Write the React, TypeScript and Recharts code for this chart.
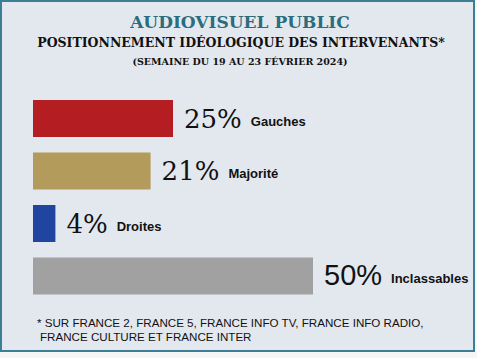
import React from 'react';
import { BarChart, Bar, XAxis, YAxis, Cell, LabelList } from 'recharts';

// Positionnement idéologique des intervenants, semaine du 19 au 23 février 2024
const CATEGORIES = ['Gauches', 'Majorité', 'Droites', 'Inclassables'];
const SHARES = [25, 21, 4, 50];
const BAR_COLORS = ['#b41e22', '#b39b5b', '#1f45a0', '#a1a1a1'];

const TITLE = 'AUDIOVISUEL PUBLIC';
const SUBTITLE = 'POSITIONNEMENT IDÉOLOGIQUE DES INTERVENANTS*';
const PERIOD = '(SEMAINE DU 19 AU 23 FÉVRIER 2024)';
const FOOTNOTE = [
  '* SUR FRANCE 2, FRANCE 5, FRANCE INFO TV, FRANCE INFO RADIO,',
  'FRANCE CULTURE ET FRANCE INTER',
];

const data = CATEGORIES.map((name, i) => ({ name, value: SHARES[i] }));

const W = 477;
const H = 358;

// value + category name drawn right after each bar
const BarLabel = (props: any) => {
  const { x, y, width, height, value, index } = props;
  const sans = index === 3; // the "50%" is set in a sans face in the original
  return (
    <text x={x + width + 11} y={y + height / 2 + 9} fill="#111">
      <tspan
        fontFamily={sans ? 'Liberation Sans, sans-serif' : 'DejaVu Serif, serif'}
        fontSize={sans ? 29 : 26}
      >
        {value}%
      </tspan>
      <tspan dx={9} dy={-2} fontFamily="Liberation Sans, sans-serif" fontWeight="bold" fontSize={13}>
        {CATEGORIES[index]}
      </tspan>
    </text>
  );
};

export default function App() {
  return (
    <div style={{ position: 'absolute', left: 0, top: 0, width: W, height: H, background: '#f4f6f8' }}>
      <div
        style={{
          position: 'absolute',
          left: 0,
          top: 0,
          width: 475,
          height: 352,
          boxSizing: 'border-box',
          border: '2px solid #3d7d96',
          background: '#e3e8ef',
        }}
      />
      <div style={{ position: 'absolute', left: 0, top: 0 }}>
        <BarChart
          width={W}
          height={H}
          data={data}
          layout="vertical"
          margin={{ top: 92, right: 164, bottom: 56, left: 33 }}
        >
          <XAxis type="number" domain={[0, 50]} hide />
          <YAxis type="category" dataKey="name" hide />
          <Bar dataKey="value" barSize={37} isAnimationActive={false}>
            {data.map((d, i) => (
              <Cell key={d.name} fill={BAR_COLORS[i]} />
            ))}
            <LabelList dataKey="value" content={BarLabel} />
          </Bar>
        </BarChart>
      </div>
      <svg width={W} height={H} style={{ position: 'absolute', left: 0, top: 0, pointerEvents: 'none' }}>
        <text x={240} y={28} textAnchor="middle" fontFamily="DejaVu Serif, serif" fontWeight="bold" fontSize={17} fill="#2c6c7c">
          {TITLE}
        </text>
        <text x={241} y={47} textAnchor="middle" fontFamily="DejaVu Serif, serif" fontWeight="bold" fontSize={12.5} fill="#111">
          {SUBTITLE}
        </text>
        <text x={240} y={65} textAnchor="middle" fontFamily="DejaVu Serif, serif" fontWeight="bold" fontSize={9.5} fill="#111">
          {PERIOD}
        </text>
        {FOOTNOTE.map((line, i) => (
          <text key={i} x={i === 0 ? 37 : 40} y={327 + i * 14} fontFamily="Liberation Sans, sans-serif" fontSize={11.6} fill="#111">
            {line}
          </text>
        ))}
      </svg>
    </div>
  );
}
